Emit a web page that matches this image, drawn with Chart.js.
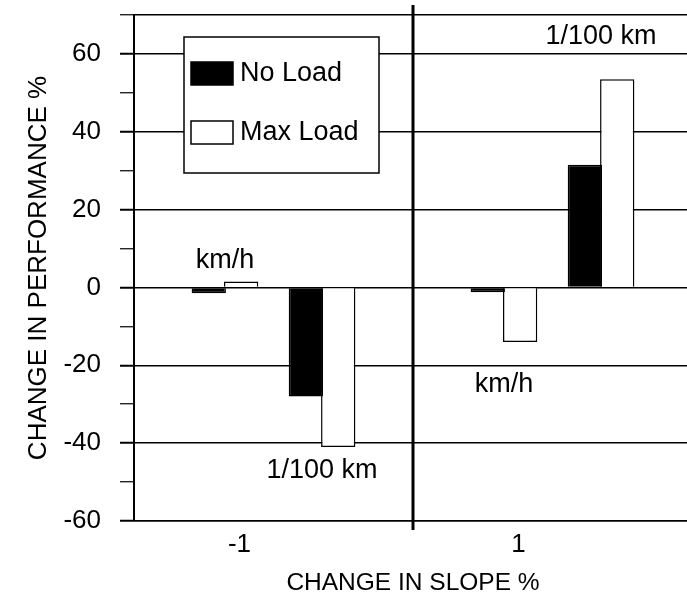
<!DOCTYPE html>
<html>
<head>
<meta charset="utf-8">
<script src="https://cdn.jsdelivr.net/npm/chart.js@4.4.0/dist/chart.umd.min.js"></script>
<style>
  html, body { margin: 0; padding: 0; background: #fff; overflow: hidden; }
  #wrap { width: 692px; height: 598px; }
</style>
</head>
<body>
<div id="wrap"><canvas id="slopeChart"></canvas></div>
<script>
// values
const categories = ['-1', '1'];
const seriesNames = ['No Load', 'Max Load'];
const kmhNoLoad = [-1.5, -1.2];
const kmhMaxLoad = [1.5, -14];
const fuelNoLoad = [-28, 31.5];
const fuelMaxLoad = [-41, 53.5];

// small text notes next to the bar pairs
const noteText = ['km/h', '1/100 km', 'km/h', '1/100 km'];
const noteCategory = [0, 0, 1, 1];
const notePair = [0, 1, 0, 1];
const noteValue = [7, -47, -25, 64.5];

const FONT = '"Liberation Sans", Arial, sans-serif';

// legend drawn as a box inside the plot, like the original
const boxLegend = {
    id: 'boxLegend',
    afterDatasetsDraw(chart) {
        const { ctx, chartArea: a } = chart;
        const x = a.left + 50, y = a.top + 22, w = 195, h = 136;
        ctx.save();
        ctx.fillStyle = '#fff';
        ctx.fillRect(x, y, w, h);
        ctx.strokeStyle = '#000';
        ctx.lineWidth = 1.5;
        ctx.strokeRect(x, y, w, h);
        ctx.font = '27px ' + FONT;
        ctx.textBaseline = 'middle';
        seriesNames.forEach((name, i) => {
            const ds = chart.data.datasets[i];
            const sy = y + 25 + i * 59;
            ctx.fillStyle = ds.backgroundColor;
            ctx.fillRect(x + 7, sy, 42, 23);
            ctx.strokeRect(x + 7, sy, 42, 23);
            ctx.fillStyle = '#000';
            ctx.fillText(name, x + 56, sy + 12);
        });
        ctx.restore();
    }
};

// divider between the two slope categories + unit notes
const extras = {
    id: 'extras',
    afterDraw(chart) {
        const { ctx, chartArea: a, scales } = chart;
        const xs = scales.x, ys = scales.y;
        const mid = (xs.getPixelForValue(0) + xs.getPixelForValue(1)) / 2;
        ctx.save();
        ctx.strokeStyle = '#000';
        ctx.lineWidth = 3;
        ctx.beginPath();
        ctx.moveTo(mid, a.top - 10);
        ctx.lineTo(mid, a.bottom + 9);
        ctx.stroke();

        ctx.fillStyle = '#000';
        ctx.font = '27px ' + FONT;
        ctx.textAlign = 'center';
        ctx.textBaseline = 'middle';
        noteText.forEach((t, i) => {
            const first = notePair[i] === 0 ? 0 : 3;
            const b1 = chart.getDatasetMeta(first).data[noteCategory[i]];
            const b2 = chart.getDatasetMeta(first + 1).data[noteCategory[i]];
            const px = (b1.x + b2.x) / 2;
            ctx.fillText(t, px, ys.getPixelForValue(noteValue[i]));
        });
        ctx.restore();
    }
};

const barStyle = { barPercentage: 1.06, categoryPercentage: 0.58, borderColor: '#000', borderWidth: 1.5 };

const ctx = document.getElementById('slopeChart').getContext('2d');
new Chart(ctx, {
    type: 'bar',
    data: {
        labels: categories,
        datasets: [
            { label: 'No Load km/h', data: kmhNoLoad, backgroundColor: '#000', ...barStyle },
            { label: 'Max Load km/h', data: kmhMaxLoad, backgroundColor: '#fff', ...barStyle },
            { label: '', data: [null, null], backgroundColor: 'rgba(0,0,0,0)', ...barStyle, borderWidth: 0 },
            { label: 'No Load 1/100 km', data: fuelNoLoad, backgroundColor: '#000', ...barStyle },
            { label: 'Max Load 1/100 km', data: fuelMaxLoad, backgroundColor: '#fff', ...barStyle }
        ]
    },
    options: {
        responsive: true,
        maintainAspectRatio: false,
        animation: false,
        layout: { padding: { left: 23, top: 15, right: 0, bottom: 0 } },
        plugins: {
            legend: { display: false },
            tooltip: { enabled: false }
        },
        scales: {
            x: {
                grid: { display: false },
                border: { display: true, color: '#000', width: 1.5 },
                ticks: { color: '#000', font: { family: FONT, size: 26 }, padding: 0, labelOffset: -34 },
                title: {
                    display: true,
                    text: 'CHANGE IN SLOPE %',
                    color: '#000',
                    font: { family: FONT, size: 24.5 },
                    padding: { top: 0, bottom: 0 }
                },
                afterFit(s) { s.height = 77; s.paddingLeft = 0; s.paddingRight = 0; }
            },
            y: {
                min: -60,
                max: 70,
                ticks: {
                    stepSize: 10,
                    color: '#000',
                    font: { family: FONT, size: 26 },
                    padding: 19,
                    callback: v => (v % 20 === 0 ? String(v) : '')
                },
                grid: {
                    color: c => (c.tick && (c.tick.value % 20 === 0 || c.tick.value === 70) ? '#000' : 'rgba(0,0,0,0)'),
                    lineWidth: 1.5,
                    tickColor: '#000',
                    tickWidth: c => (c.tick && c.tick.value % 20 === 0 ? 2 : 1.2),
                    tickLength: 14
                },
                border: { display: true, color: '#000', width: 2 },
                title: {
                    display: true,
                    text: 'CHANGE IN PERFORMANCE %',
                    color: '#000',
                    font: { family: FONT, size: 26 },
                    padding: { top: 0, bottom: 10 }
                },
                afterFit(s) { s.width = 111; s.paddingTop = 0; s.paddingBottom = 0; }
            }
        }
    },
    plugins: [boxLegend, extras]
});
</script>
</body>
</html>
